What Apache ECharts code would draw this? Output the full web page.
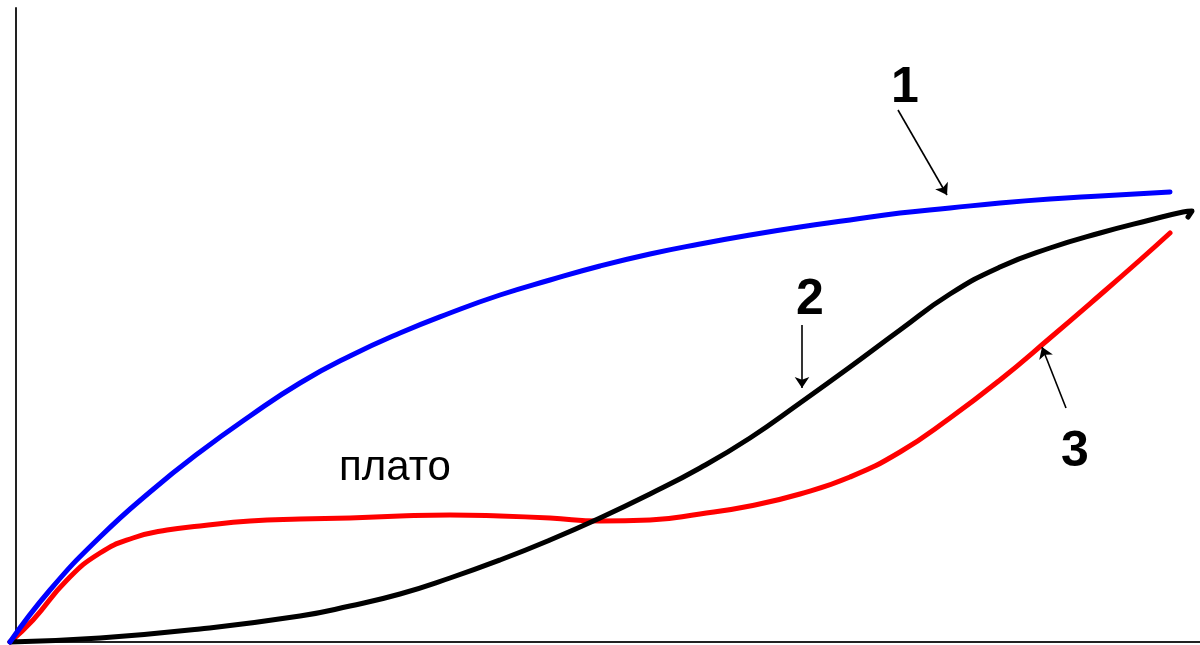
<!DOCTYPE html>
<html>
<head>
<meta charset="utf-8">
<script src="https://cdn.jsdelivr.net/npm/echarts@6/dist/echarts.min.js"></script>
<style>html,body{margin:0;padding:0;background:#fff}#c{width:1200px;height:645px}</style>
</head>
<body>
<div id="c"></div>
<script>
// Curve data: [x, y] in arbitrary units
var curve1 = [[-6,0],[34,52],[84,105],[134,150],[184,190],[234,226],[284,259],[334,286],[384,309],[434,329],[484,347],[534,362],[584,376],[634,388],[684,398],[734,407],[784,415],[834,422],[884,429],[934,434],[984,439],[1034,443],[1084,446],[1154,450]];
var curve2 = [[-6,0],[84,4],[184,13],[284,26],[334,36],[384,48],[434,64],[484,82],[534,102],[584,124],[634,148],[684,174],[734,204],[784,239],[834,275],[884,312],[934,348],[984,375],[1034,394],[1084,409],[1134,422],[1167,430],[1176,431],[1172,425]];
var curve3 = [[-6,0],[17,22],[51,62],[84,89],[117,104],[151,112],[184,116],[234,121],[284,123],[334,124],[384,126],[434,127],[484,126],[534,124],[584,121],[634,122],[684,128],[734,136],[784,148],[834,165],[884,190],[934,224],[984,262],[1034,304],[1084,347],[1124,382],[1154,409]];
var curveNames = ['1', '2', '3'];
var curveColors = ['#0000ff', '#000000', '#ff0000'];
// Annotation labels and arrows
var labelTexts = ['1', '2', '3', 'плато'];
var labelPos = [[889,554],[794,342],[1059,190],[379,174]];
var arrows = [
  [[882,532],[931,447]],
  [[786,317],[786,254]],
  [[1050,234],[1026,295]]
];

var chart = echarts.init(document.getElementById('c'));
var curves = [curve1, curve2, curve3];
var series = curves.map(function (d, i) {
  return {
    type: 'line', name: curveNames[i], data: d, smooth: 0.5,
    showSymbol: false, clip: false, silent: true,
    lineStyle: { color: curveColors[i], width: 5, cap: 'round', join: 'round' },
    z: 3 - i
  };
});
series.push({
  type: 'line', silent: true, data: [], showSymbol: false,
  markLine: {
    silent: true, animation: false,
    symbol: ['none', 'arrow'], symbolSize: 11,
    lineStyle: { color: '#000', width: 1.6, type: 'solid' },
    itemStyle: { color: '#000' },
    label: { show: false },
    data: arrows.map(function (a) { return [{ coord: a[0] }, { coord: a[1] }]; })
  }
});

chart.setOption({
  animation: false,
  backgroundColor: '#fff',
  grid: { left: 10, right: 0, top: 8, bottom: 3, containLabel: false },
  xAxis: {
    type: 'value', min: -6, max: 1184,
    axisLine: { show: true, onZero: true, lineStyle: { color: '#222', width: 2 } },
    axisTick: { show: false }, axisLabel: { show: false }, splitLine: { show: false }
  },
  yAxis: {
    type: 'value', min: 0, max: 634,
    axisLine: { show: true, onZero: true, lineStyle: { color: '#222', width: 2 } },
    axisTick: { show: false }, axisLabel: { show: false }, splitLine: { show: false }
  },
  series: series
});

// Text annotations placed through the grid's coordinate conversion
var font = '"Liberation Sans", Arial, sans-serif';
chart.setOption({
  graphic: labelTexts.map(function (t, i) {
    var p = chart.convertToPixel({ gridIndex: 0 }, labelPos[i]);
    return {
      type: 'text', x: p[0], y: p[1], silent: true, z: 100,
      style: {
        text: t, fill: '#000000', align: 'center', verticalAlign: 'middle',
        font: (i < 3 ? 'bold 50px ' : 'normal 42px ') + font
      }
    };
  })
});
</script>
</body>
</html>
